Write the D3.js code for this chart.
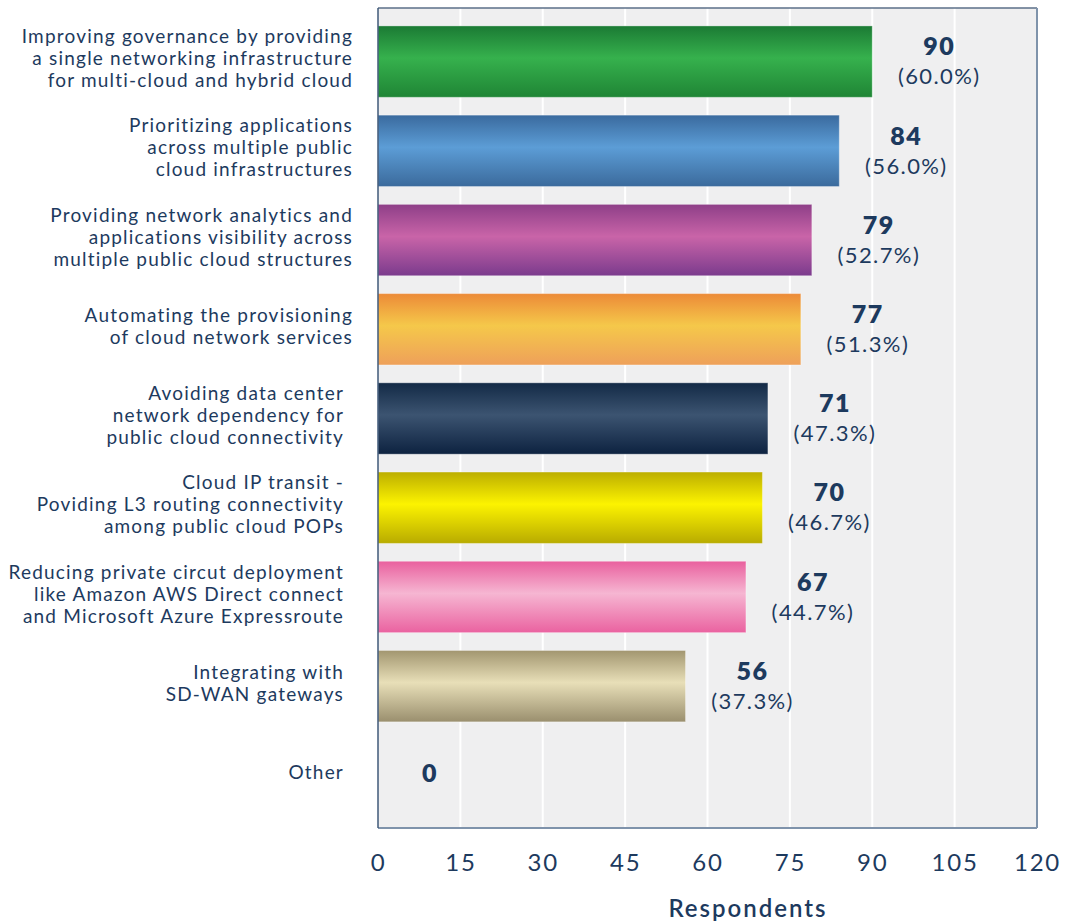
<!DOCTYPE html>
<html>
<head>
<meta charset="utf-8">
<script src="https://cdn.jsdelivr.net/npm/d3@7/dist/d3.min.js"></script>
<style>
  html, body { margin: 0; padding: 0; background: #ffffff; }
  svg { display: block; font-family: Lato, "Noto Sans", sans-serif; }
</style>
</head>
<body>
<svg id="chart" width="1070" height="923"></svg>
<script>
// Survey responses: benefits of a multi-cloud networking layer
const categories = [
  ["Improving governance by providing", "a single networking infrastructure", "for multi-cloud and hybrid cloud"],
  ["Prioritizing applications", "across multiple public", "cloud infrastructures"],
  ["Providing network analytics and", "applications visibility across", "multiple public cloud structures"],
  ["Automating the provisioning", "of cloud network services"],
  ["Avoiding data center", "network dependency for", "public cloud connectivity"],
  ["Cloud IP transit -", "Poviding L3 routing connectivity", "among public cloud POPs"],
  ["Reducing private circut deployment", "like Amazon AWS Direct connect", "and Microsoft Azure Expressroute"],
  ["Integrating with", "SD-WAN gateways"],
  ["Other"]
];
const respondents = [90, 84, 79, 77, 71, 70, 67, 56, 0];
const percentLabels = ["(60.0%)", "(56.0%)", "(52.7%)", "(51.3%)", "(47.3%)", "(46.7%)", "(44.7%)", "(37.3%)", ""];
const xTicks = [0, 15, 30, 45, 60, 75, 90, 105, 120];

// Bar shading: [edge-top, centre, edge-bottom]
const barShades = [
  ["#1b7a34", "#36b14d", "#1f8535"],
  ["#3a6a9e", "#5c9dd6", "#3b6a9c"],
  ["#8e3f88", "#c964a8", "#7b3b8d"],
  ["#ec8a38", "#f5c84a", "#eea05a"],
  ["#132a46", "#3c5471", "#0d2240"],
  ["#bcae00", "#fcf300", "#b8ab00"],
  ["#e9609e", "#f6b6d2", "#ea62a0"],
  ["#a29670", "#e8dfb8", "#9a8f6e"],
  ["#cccccc", "#eeeeee", "#cccccc"]
];

const textColor = "#1d3a5e";
const svg = d3.select("#chart");

const plot = { left: 378, right: 1037, top: 8, bottom: 828 };

const x = d3.scaleLinear().domain([0, 120]).range([plot.left, plot.right]);
const y = d3.scaleBand()
  .domain(d3.range(categories.length))
  .range([17, 820])
  .paddingInner(0.2)
  .paddingOuter(0.1);

// Gradients
const defs = svg.append("defs");
barShades.forEach((s, i) => {
  const g = defs.append("linearGradient")
    .attr("id", "shade" + i)
    .attr("x1", 0).attr("y1", 0).attr("x2", 0).attr("y2", 1);
  g.append("stop").attr("offset", "0%").attr("stop-color", s[0]);
  g.append("stop").attr("offset", "45%").attr("stop-color", s[1]);
  g.append("stop").attr("offset", "100%").attr("stop-color", s[2]);
});

// Plot background
svg.append("rect")
  .attr("x", plot.left).attr("y", plot.top)
  .attr("width", plot.right - plot.left)
  .attr("height", plot.bottom - plot.top)
  .attr("fill", "#efeff0");

// Vertical gridlines
svg.append("g")
  .selectAll("line")
  .data(xTicks.slice(1, -1))
  .join("line")
  .attr("x1", d => x(d)).attr("x2", d => x(d))
  .attr("y1", plot.top).attr("y2", plot.bottom)
  .attr("stroke", "#ffffff")
  .attr("stroke-width", 2);

// Bars
svg.append("g")
  .selectAll("rect")
  .data(respondents)
  .join("rect")
  .attr("x", x(0))
  .attr("y", (d, i) => y(i))
  .attr("width", d => x(d) - x(0))
  .attr("height", y.bandwidth())
  .attr("fill", (d, i) => `url(#shade${i})`)
  .attr("stroke", "rgba(255,255,255,0.35)")
  .attr("stroke-width", 1);

// Frame
svg.append("line")
  .attr("x1", plot.left).attr("x2", plot.right)
  .attr("y1", plot.top).attr("y2", plot.top)
  .attr("stroke", "#5b6f88").attr("stroke-width", 1.5);
svg.append("line")
  .attr("x1", plot.right).attr("x2", plot.right)
  .attr("y1", plot.top).attr("y2", plot.bottom)
  .attr("stroke", "#7f93ab").attr("stroke-width", 2);
svg.append("line")
  .attr("x1", plot.left).attr("x2", plot.right)
  .attr("y1", plot.bottom).attr("y2", plot.bottom)
  .attr("stroke", "#7f93ab").attr("stroke-width", 2);
svg.append("line")
  .attr("x1", plot.left).attr("x2", plot.left)
  .attr("y1", plot.top).attr("y2", plot.bottom)
  .attr("stroke", "#3f5878").attr("stroke-width", 1.5);

// X axis tick labels
const xAxis = d3.axisBottom(x).tickValues(xTicks).tickSize(0).tickPadding(0);
const xg = svg.append("g")
  .attr("transform", `translate(0, ${plot.bottom + 43})`)
  .call(xAxis);
xg.select(".domain").remove();
xg.selectAll("text")
  .attr("fill", textColor)
  .attr("font-size", 24)
  .attr("letter-spacing", 1.8)
  .attr("font-family", "Lato, 'Noto Sans', sans-serif")
  .attr("dy", 0);

svg.append("text")
  .attr("x", 748).attr("y", 917)
  .attr("text-anchor", "middle")
  .attr("fill", textColor)
  .attr("font-size", 24)
  .attr("font-weight", 600)
  .attr("letter-spacing", 2)
  .text("Respondents");

// Category labels
const labels = svg.append("g");
categories.forEach((lines, i) => {
  const cy = y(i) + y.bandwidth() / 2;
  const lh = 22;
  const rx = i < 4 ? 353 : 344;
  const t = labels.append("text")
    .attr("text-anchor", "end")
    .attr("fill", textColor)
    .attr("font-size", 19)
    .attr("letter-spacing", 1.2);
  lines.forEach((ln, k) => {
    t.append("tspan")
      .attr("x", rx)
      .attr("y", cy + (k - (lines.length - 1) / 2) * lh - 3)
      .attr("dy", "0.35em")
      .text(ln);
  });
});

// Value labels
const vals = svg.append("g");
respondents.forEach((v, i) => {
  const cy = y(i) + y.bandwidth() / 2;
  const cx = v === 0 ? x(v) + 52 : x(v) + 67;
  const hasPct = percentLabels[i] !== "";
  vals.append("text")
    .attr("x", cx)
    .attr("y", hasPct ? cy - 15 : cy - 2)
    .attr("dy", "0.35em")
    .attr("text-anchor", "middle")
    .attr("fill", textColor)
    .attr("font-size", 25)
    .attr("font-weight", 800)
    .attr("letter-spacing", 1.5)
    .text(v);
  if (hasPct) {
    vals.append("text")
      .attr("x", cx)
      .attr("y", cy + 15)
      .attr("dy", "0.35em")
      .attr("text-anchor", "middle")
      .attr("fill", textColor)
      .attr("font-size", 22)
      .attr("letter-spacing", 1.4)
      .text(percentLabels[i]);
  }
});
</script>
</body>
</html>
